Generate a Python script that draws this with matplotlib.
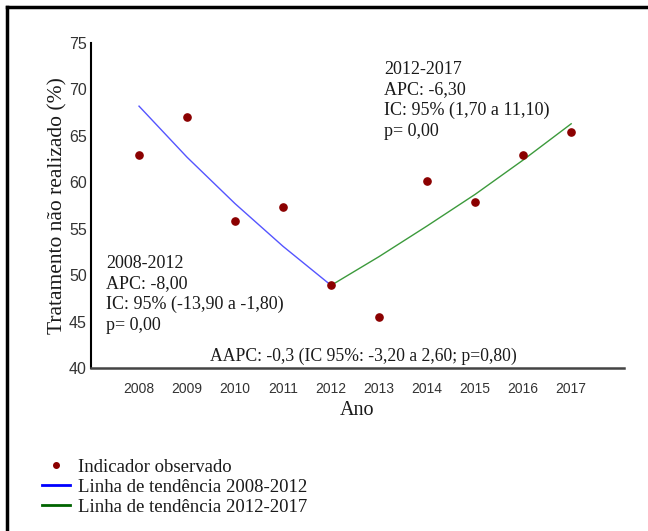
import matplotlib
matplotlib.use('Agg')
import matplotlib.pyplot as plt
from matplotlib.lines import Line2D

#%% Data

anos = [2008, 2009, 2010, 2011, 2012, 2013, 2014, 2015, 2016, 2017]
observado = [62.9, 67.0, 55.8, 57.3, 48.9, 45.5, 60.1, 57.9, 62.9, 65.4]

anos_t1 = [2008, 2009, 2010, 2011, 2012]
tendencia_t1 = [68.2, 62.7, 57.7, 53.1, 48.9]

anos_t2 = [2012, 2013, 2014, 2015, 2016, 2017]
tendencia_t2 = [48.9, 52.0, 55.3, 58.7, 62.4, 66.3]

yticks = [40, 45, 50, 55, 60, 65, 70, 75]

texto_t1 = "2008-2012\nAPC: -8,00\nIC: 95% (-13,90 a -1,80)\np= 0,00"
texto_t2 = "2012-2017\nAPC: -6,30\nIC: 95% (1,70 a 11,10)\np= 0,00"
texto_aapc = "AAPC: -0,3 (IC 95%: -3,20 a 2,60; p=0,80)"

legenda = ["Indicador observado",
           "Linha de tendência 2008-2012",
           "Linha de tendência 2012-2017"]

#%% Plot

serif = 'Liberation Serif'
sans = ['Liberation Sans Narrow', 'Liberation Sans']
txt_col = '#1a1a1a'

W, H = 648, 531
fig = plt.figure(figsize=(W / 100, H / 100), dpi=100)
ax = fig.add_axes([91 / W, 1 - 368 / H, (624 - 91) / W, (368 - 43) / H])

ax.plot(anos_t1, tendencia_t1, color='#5555ff', lw=1.0)
ax.plot(anos_t2, tendencia_t2, color='#3c9a3c', lw=1.0)
ax.plot(anos, observado, 'o', color='#8b0000', markersize=5.2, zorder=3)

ax.set_xlim(2007.0, 2018.1)
ax.set_ylim(40, 75)
ax.set_xticks(anos)
ax.set_yticks(yticks)
ax.tick_params(axis='both', length=0, colors='#333333')
ax.tick_params(axis='x', pad=10, labelsize=10)
ax.tick_params(axis='y', pad=3, labelsize=11.5)
for lab in ax.get_xticklabels():
    lab.set_family(sans)
for lab in ax.get_yticklabels():
    lab.set_family('Liberation Sans')

for side in ['top', 'right']:
    ax.spines[side].set_visible(False)
ax.spines['left'].set_color('black')
ax.spines['left'].set_linewidth(1.5)
ax.spines['bottom'].set_color('#444444')
ax.spines['bottom'].set_linewidth(1.8)

ax.set_ylabel('Tratamento não realizado (%)', family=serif, fontsize=15.5,
              color=txt_col)
ax.yaxis.set_label_coords(-0.045, 0.5)
ax.set_xlabel('Ano', family=serif, fontsize=14.5, color=txt_col, labelpad=4)

ax.text(0.028, 0.348, texto_t1, transform=ax.transAxes, va='top', ha='left',
        family=serif, fontsize=13, color=txt_col, linespacing=1.27)
ax.text(0.55, 0.945, texto_t2, transform=ax.transAxes, va='top', ha='left',
        family=serif, fontsize=13, color=txt_col, linespacing=1.27)
ax.text(0.511, 0.036, texto_aapc, transform=ax.transAxes, va='center',
        ha='center', family=serif, fontsize=12.7, color=txt_col)

handles = [Line2D([], [], ls='none', marker='o', color='#8b0000', markersize=4),
           Line2D([], [], color='#0000ff', lw=2),
           Line2D([], [], color='#006400', lw=2)]
fig.legend(handles, legenda, loc='upper left', bbox_to_anchor=(34.5 / W, 1 - 451 / H),
           frameon=False, prop={'family': serif, 'size': 13.5}, labelcolor=txt_col,
           handlelength=1.5, handletextpad=0.43, labelspacing=0.155,
           borderaxespad=0)

# frame lines at the top and left of the picture
fig.add_artist(Line2D([7 / W, 1], [1 - 7 / H, 1 - 7 / H], color='black', lw=2.5))
fig.add_artist(Line2D([7 / W, 7 / W], [0, 1 - 7 / H], color='black', lw=2.5))

fig.savefig('out.png', dpi=100, facecolor='white')
